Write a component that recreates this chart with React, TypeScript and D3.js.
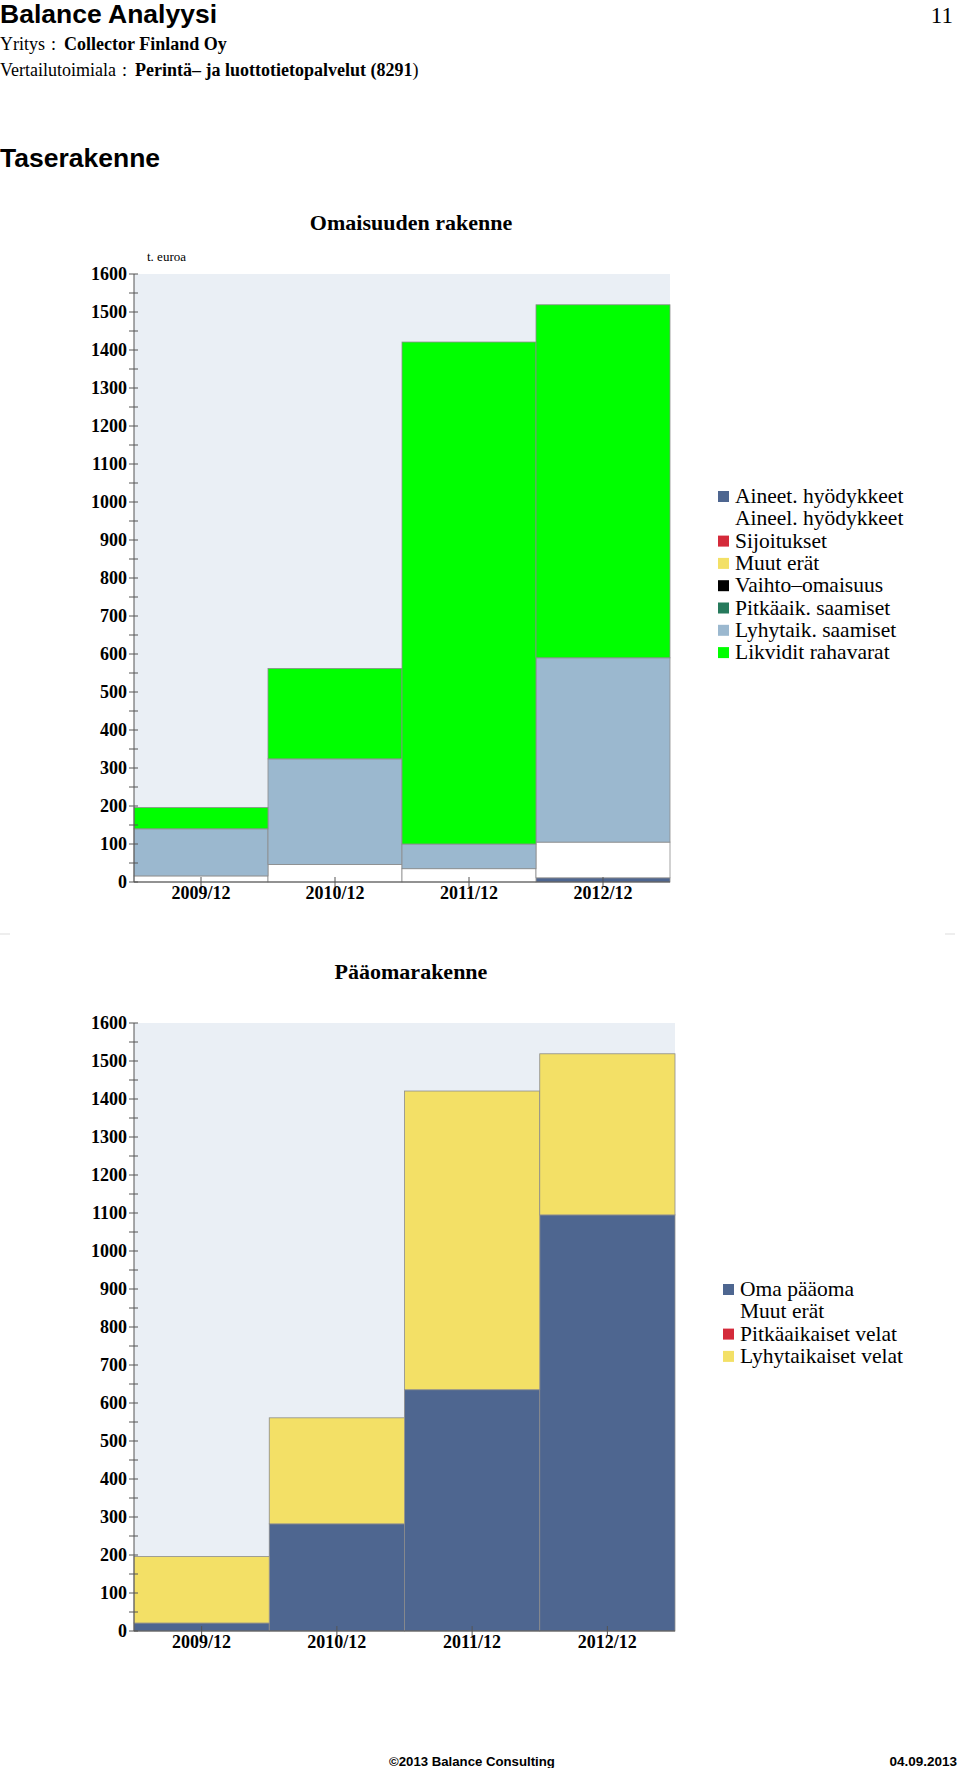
import React from "react";
import * as d3 from "d3";

const years = ["2009/12", "2010/12", "2011/12", "2012/12"];
const yTicks = d3.range(0, 1601, 100);

// Omaisuuden rakenne (assets)
const assetNames = [
  "Aineet. hyödykkeet",
  "Aineel. hyödykkeet",
  "Sijoitukset",
  "Muut erät",
  "Vaihto\u2013omaisuus",
  "Pitkäaik. saamiset",
  "Lyhytaik. saamiset",
  "Likvidit rahavarat",
];
const aineet = [0, 0, 0, 11];
const aineel = [16, 46, 35, 94];
const sijoitukset = [0, 0, 0, 0];
const muutErat = [0, 0, 0, 0];
const vaihto = [0, 0, 0, 0];
const pitkaaik = [0, 0, 0, 0];
const lyhytaik = [124, 278, 65, 485];
const likvidit = [56, 238, 1321, 929];
const assetColors = ["#4e6690", "#ffffff", "#d42a3a", "#f3e066", "#000000", "#267a5c", "#9bb8cf", "#00ff00"];
const assetSwatch = [true, false, true, true, true, true, true, true];

// Pääomarakenne (liabilities)
const liabNames = ["Oma pääoma", "Muut erät", "Pitkäaikaiset velat", "Lyhytaikaiset velat"];
const omaPaaoma = [21, 282, 635, 1095];
const muutErat2 = [0, 0, 0, 0];
const pitkaVelat = [0, 0, 0, 0];
const lyhytVelat = [175, 279, 786, 424];
const liabColors = ["#4e6690", "#ffffff", "#d42a3a", "#f3e066"];
const liabSwatch = [true, false, true, true];

const assetSeries = [aineet, aineel, sijoitukset, muutErat, vaihto, pitkaaik, lyhytaik, likvidit];
const liabSeries = [omaPaaoma, muutErat2, pitkaVelat, lyhytVelat];

const SERIF = "'Liberation Serif', 'DejaVu Serif', serif";
const SANS = "'Liberation Sans', Arial, sans-serif";

type ChartProps = {
  title: string;
  titleY: number;
  top: number;
  bottom: number;
  left: number;
  right: number;
  series: number[][];
  names: string[];
  colors: string[];
  swatch: boolean[];
  legendX: number;
  legendY: number;
  unit?: boolean;
};

function StackChart(p: ChartProps) {
  const x = d3.scaleBand<string>().domain(years).range([p.left, p.right]).paddingInner(0).paddingOuter(0);
  const y = d3.scaleLinear().domain([0, 1600]).range([p.bottom, p.top]);
  const rows = years.map((yr, i) => {
    const o: any = { year: yr };
    p.series.forEach((s, k) => (o["s" + k] = s[i]));
    return o;
  });
  const keys = p.series.map((_, k) => "s" + k);
  const stacked = d3.stack<any>().keys(keys)(rows);
  const minor = d3.range(50, 1600, 100);
  const LS = 22.3;
  return (
    <g>
      <text x={411} y={p.titleY} textAnchor="middle" fontFamily={SERIF} fontWeight="bold" fontSize={22}>
        {p.title}
      </text>
      {p.unit && (
        <text x={p.left + 13} y={p.top - 13} fontFamily={SERIF} fontSize={13}>
          t. euroa
        </text>
      )}
      <rect x={p.left} y={y(1600)} width={p.right - p.left} height={y(0) - y(1600)} fill="#eaeff5" />
      {stacked.map((layer, k) =>
        layer.map((d, i) =>
          d[1] - d[0] > 0 ? (
            <rect
              key={k + "-" + i}
              x={x(years[i])}
              y={y(d[1])}
              width={x.bandwidth()}
              height={y(d[0]) - y(d[1])}
              fill={p.colors[k]}
              stroke="#8c8c8c"
              strokeWidth={0.8}
            />
          ) : null
        )
      )}
      <line x1={p.left} x2={p.left} y1={y(1600)} y2={y(0)} stroke="#555" strokeWidth={1} />
      <line x1={p.left} x2={p.right} y1={y(0)} y2={y(0)} stroke="#555" strokeWidth={1.2} />
      {yTicks.map((t) => (
        <g key={t}>
          <line x1={p.left - 5} x2={p.left + 4} y1={y(t)} y2={y(t)} stroke="#555" />
          <text x={p.left - 7} y={y(t) + 6} textAnchor="end" fontFamily={SERIF} fontWeight="bold" fontSize={18}>
            {t}
          </text>
        </g>
      ))}
      {minor.map((t) => (
        <line key={t} x1={p.left - 5} x2={p.left + 4} y1={y(t)} y2={y(t)} stroke="#555" />
      ))}
      {years.map((yr) => (
        <g key={yr}>
          <line x1={x(yr)! + x.bandwidth() / 2} x2={x(yr)! + x.bandwidth() / 2} y1={y(0) - 5} y2={y(0) + 5} stroke="#555" />
          <text x={x(yr)! + x.bandwidth() / 2} y={y(0) + 17} textAnchor="middle" fontFamily={SERIF} fontWeight="bold" fontSize={18}>
            {yr}
          </text>
        </g>
      ))}
      {p.names.map((n, k) => (
        <g key={n}>
          {p.swatch[k] && (
            <rect x={p.legendX} y={p.legendY + k * LS - 12} width={11} height={11} fill={p.colors[k]} />
          )}
          <text x={p.legendX + 17} y={p.legendY + k * LS} fontFamily={SERIF} fontSize={21.5}>
            {n}
          </text>
        </g>
      ))}
    </g>
  );
}

export default function App() {
  return (
    <svg width={960} height={1768} style={{ position: "absolute", left: 0, top: 0, background: "#fff" }}>
      <text x={0} y={23} fontFamily={SANS} fontWeight="bold" fontSize={26.5}>
        Balance Analyysi
      </text>
      <text x={953} y={23} textAnchor="end" fontFamily={SERIF} fontSize={23}>
        11
      </text>
      <text x={0} y={50} fontFamily={SERIF} fontSize={18}>
        Yritys<tspan dx={6}>:</tspan>
        <tspan dx={8} fontWeight="bold">Collector Finland Oy</tspan>
      </text>
      <text x={0} y={76} fontFamily={SERIF} fontSize={18}>
        Vertailutoimiala<tspan dx={6}>:</tspan>
        <tspan dx={8} fontWeight="bold">Perintä– ja luottotietopalvelut (8291</tspan>
        <tspan>)</tspan>
      </text>
      <text x={0} y={167} fontFamily={SANS} fontWeight="bold" fontSize={26.5}>
        Taserakenne
      </text>
      <StackChart
        title="Omaisuuden rakenne"
        titleY={230}
        top={274}
        bottom={882}
        left={134}
        right={670}
        series={assetSeries}
        names={assetNames}
        colors={assetColors}
        swatch={assetSwatch}
        legendX={718}
        legendY={503}
        unit
      />
      <line x1={0} x2={10} y1={934} y2={934} stroke="#ddd" />
      <line x1={945} x2={955} y1={934} y2={934} stroke="#ddd" />
      <StackChart
        title="Pääomarakenne"
        titleY={979}
        top={1023}
        bottom={1631}
        left={134}
        right={675}
        series={liabSeries}
        names={liabNames}
        colors={liabColors}
        swatch={liabSwatch}
        legendX={723}
        legendY={1296}
      />
      <text x={389} y={1766} fontFamily={SANS} fontWeight="bold" fontSize={13.2}>
        ©2013 Balance Consulting
      </text>
      <text x={957} y={1766} textAnchor="end" fontFamily={SANS} fontWeight="bold" fontSize={13.5}>
        04.09.2013
      </text>
    </svg>
  );
}
